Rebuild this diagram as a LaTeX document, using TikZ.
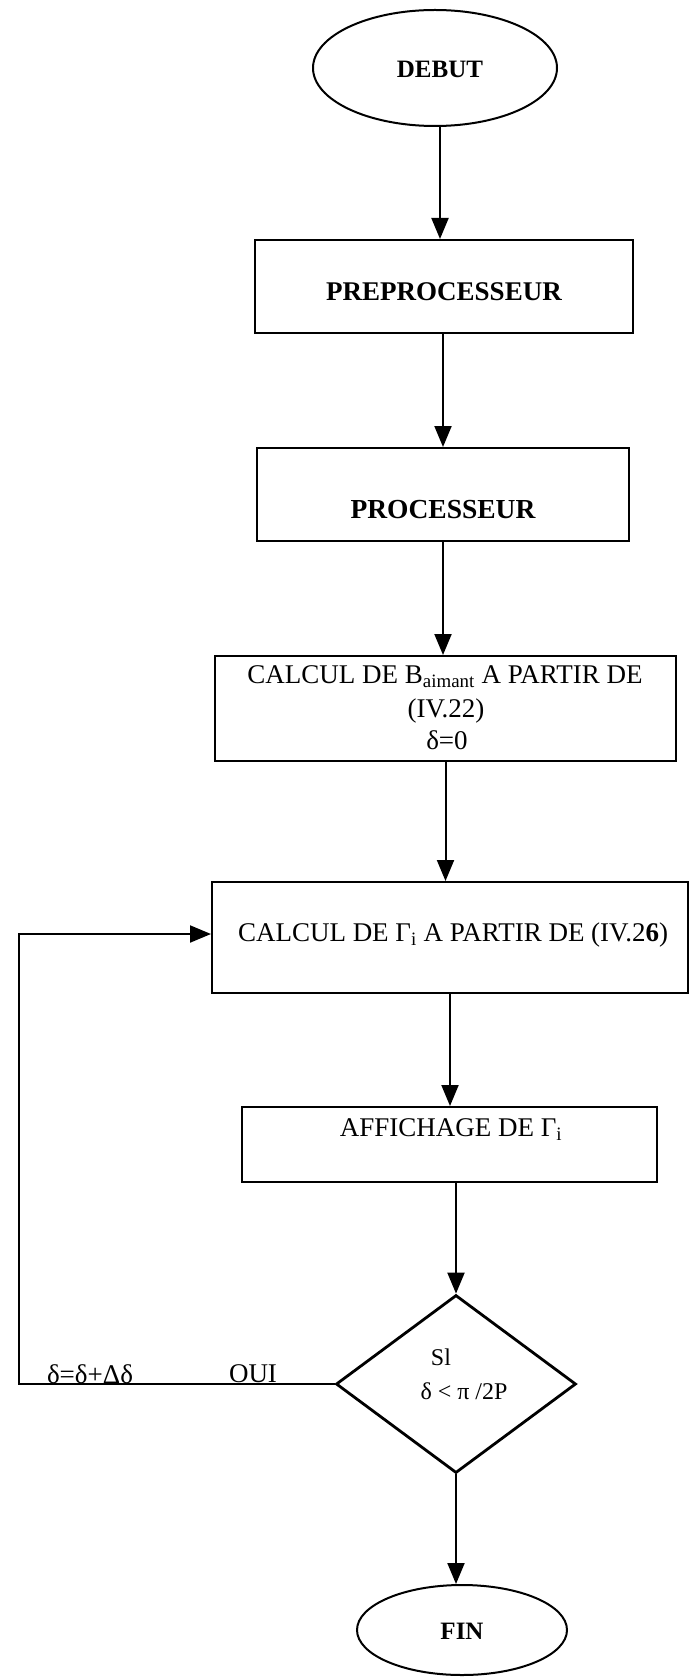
\documentclass[tikz,border=0pt]{standalone}
\usepackage{fontspec}
\setmainfont{Liberation Serif}
\usetikzlibrary{shapes.geometric,arrows.meta}
\begin{document}
\begin{tikzpicture}[x=1pt,y=-1pt,
  txt/.style={inner sep=0pt,font=\fontsize{27}{32}\selectfont},
  btxt/.style={inner sep=0pt,font=\fontsize{27}{32}\selectfont\bfseries},
  boxx/.style={draw,line width=2pt,inner sep=0pt},
  term/.style={draw,ellipse,line width=2pt,inner sep=0pt},
  decision/.style={draw,diamond,line width=2.8pt,inner sep=0pt},
  arr/.style={line width=2pt,-{Triangle[length=21pt,width=17pt]}}]
\useasboundingbox (0,0) rectangle (690,1677);
% shapes
\node[term,minimum width=244pt,minimum height=116pt] (deb) at (435,68) {};
\node[boxx,minimum width=378pt,minimum height=93pt] (pre) at (444,286.5) {};
\node[boxx,minimum width=372pt,minimum height=93pt] (pro) at (443,494.5) {};
\node[boxx,minimum width=461pt,minimum height=105pt] (calb) at (445.5,708.5) {};
\node[boxx,minimum width=476pt,minimum height=111pt] (gam) at (450,937.5) {};
\node[boxx,minimum width=415pt,minimum height=75pt] (aff) at (449.5,1144.5) {};
\node[decision,minimum width=240pt,minimum height=178pt] (dec) at (456,1384) {};
\node[term,minimum width=210pt,minimum height=90pt] (fin) at (462,1630) {};
% texts
\node[btxt,font=\fontsize{25}{30}\selectfont\bfseries] (tdeb) at (440,69) {DEBUT};
\node[btxt] (tpre) at (444,291.5) {PREPROCESSEUR};
\node[btxt,font=\fontsize{27.5}{32}\selectfont\bfseries] (tpro) at (443,510) {PROCESSEUR};
\node[txt] (tcb1) at (445,677) {CALCUL DE B\textsubscript{aimant} A PARTIR DE};
\node[txt] (tcb2) at (446,711) {(IV.22)};
\node[txt] (tcb3) at (447,740) {δ=0};
\node[txt] (tgam) at (453,935) {CALCUL DE Γ\textsubscript{i} A PARTIR DE (IV.2\textbf{6})};
\node[txt] (taff) at (451,1130) {AFFICHAGE DE Γ\textsubscript{i}};
\node[txt,font=\fontsize{24}{29}\selectfont] (tsi) at (441,1357) {Sl};
\node[txt,font=\fontsize{24}{29}\selectfont] (tcond) at (464,1391) {δ < π /2P};
\node[btxt,font=\fontsize{25}{30}\selectfont\bfseries] (tfin) at (462,1631) {FIN};
\node[txt] (tinc) at (90,1374) {δ=δ+Δδ};
\node[txt] (toui) at (253,1374) {OUI};
% connectors
\coordinate (lt) at (19,934);
\draw[arr] (deb.south -| tdeb) -- (tdeb |- pre.north);
\draw[arr] (pro.north |- pre.south) -- (pro.north);
\draw[arr] (pro.south) -- (pro.south |- calb.north);
\draw[arr] (calb.south) -- (calb.south |- gam.north);
\draw[arr] (gam.south) -- (gam.south |- aff.north);
\draw[arr] (dec.north |- aff.south) -- (dec.north);
\draw[arr] (dec.south) -- (dec.south |- fin.north);
\draw[arr] (dec.west) -| (lt) -- (gam.west |- lt);
\end{tikzpicture}
\end{document}
